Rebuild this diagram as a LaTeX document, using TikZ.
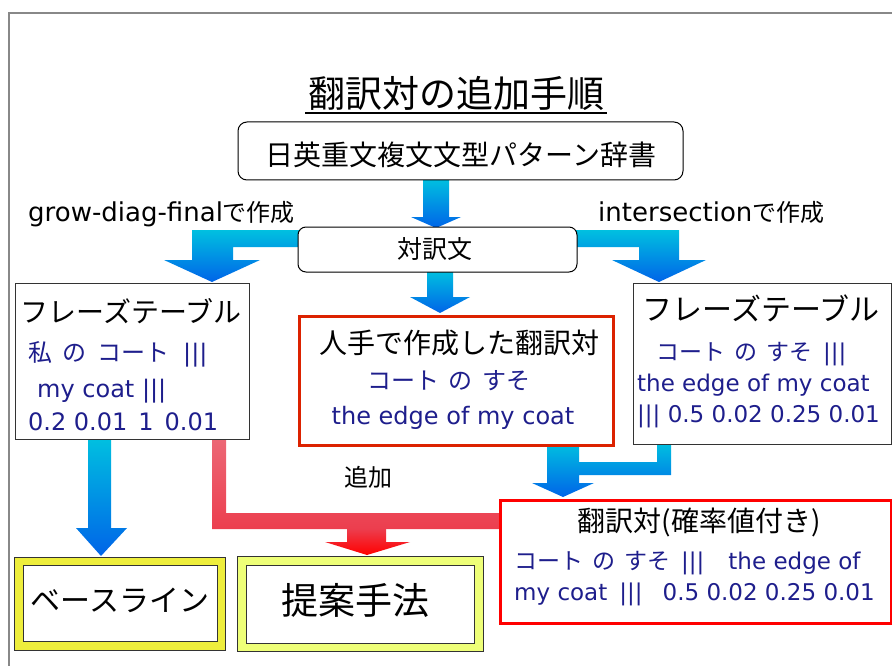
\documentclass[tikz,border=0pt]{standalone}
\usepackage{fontspec}
\setmainfont{DejaVu Sans}
\newfontfamily\jp{Noto Sans CJK JP}
\newcommand\fsz[1]{\fontsize{#1}{#1}\selectfont}
\definecolor{txtblue}{RGB}{30,30,140}
\definecolor{cyanA}{RGB}{0,192,224}
\definecolor{blueA}{RGB}{0,100,232}
\definecolor{pinkA}{RGB}{236,104,118}
\definecolor{pinkB}{RGB}{236,62,78}
\definecolor{framegray}{RGB}{136,136,136}
\definecolor{boxred}{RGB}{220,34,0}
\definecolor{yel}{RGB}{238,238,60}
\definecolor{yelpale}{RGB}{238,255,120}
\begin{document}
\begin{tikzpicture}[x=1pt,y=-1pt,
  plainbox/.style={draw=black!80, line width=1pt, fill=white, inner sep=0pt, anchor=north west},
  redbox/.style={draw=boxred, line width=3pt, fill=white, inner sep=0pt, anchor=north west},
  roundbox/.style={draw=black, line width=1pt, fill=white, rounded corners=9pt, inner sep=0pt},
  yelbox/.style={draw=black!80, line width=1pt, inner sep=0pt, anchor=north west},
  bluearrow/.style={top color=cyanA, bottom color=blueA},
  bluetxt/.style={text=txtblue, inner sep=0pt},
  blktxt/.style={text=black, inner sep=0pt}]
\useasboundingbox (0,0) rectangle (892,666);
% frame
\draw[framegray, line width=2pt] (9,666) -- (9,13) -- (892,13);
% title
\node[blktxt, font=\jp\fsz{37}] (title) at (456,93) {翻訳対の追加手順};
\draw[line width=2pt] (305,113) -- (607,113);

% ---- arrows (drawn below boxes)
\path[bluearrow] (423,179) -- (449,179) -- (449,217) -- (461,217) -- (436,228) -- (411,217) -- (423,217) -- cycle;
\path[bluearrow] (427,271) -- (453,271) -- (453,297) -- (470,297) -- (440,313) -- (410,297) -- (427,297) -- cycle;
\path[bluearrow] (300,230) -- (192,230) -- (192,260) -- (164,260) -- (212,282) -- (260,260) -- (233,260) -- (233,247) -- (300,247) -- cycle;
\path[bluearrow] (576,230) -- (679,230) -- (679,260) -- (706,260) -- (659,282) -- (612,260) -- (639,260) -- (639,247) -- (576,247) -- cycle;
\path[bluearrow] (547,443) -- (579,443) -- (579,462) -- (657,462) -- (657,443) -- (671,443) -- (671,475) -- (579,475) -- (579,483) -- (594,483) -- (563,497) -- (532,483) -- (547,483) -- cycle;
\path[bluearrow] (88,438) -- (111,438) -- (111,528) -- (127,528) -- (101,556) -- (76,528) -- (88,528) -- cycle;
\path[top color=pinkA, bottom color=pinkB] (212,438) -- (226,438) -- (226,513) -- (500,513) -- (500,529) -- (212,529) -- cycle;
\path[top color=pinkB, bottom color=red] (347,528.5) -- (386,528.5) -- (386,542) -- (410,542) -- (367,555) -- (325,542) -- (347,542) -- cycle;

% ---- boxes
\node[roundbox, minimum width=445pt, minimum height=58pt] (dict) at (460.5,151) {};
\node[blktxt, font=\jp\fsz{28}] (dicttext) at (461,155) {日英重文複文文型パターン辞書};
\node[roundbox, rounded corners=8pt, minimum width=279pt, minimum height=45pt] (pair) at (437.5,249.5) {};
\node[blktxt, font=\jp\fsz{25}] (pairtext) at (435,249) {対訳文};

\node[blktxt, anchor=base west, font=\fsz{26}] (gdf) at (28,222) {grow-diag-final{\jp\fsz{24}で作成}};
\node[blktxt, anchor=base west, font=\fsz{26}] (isec) at (598,222) {intersection{\jp\fsz{24}で作成}};

% left phrase table
\node[plainbox, minimum width=234pt, minimum height=156pt] (lt) at (15,283) {};
\node[blktxt, font=\jp\fsz{28}] (lt1) at (131,311) {フレーズテーブル};
\node[bluetxt, anchor=base west, font=\fsz{24}] (lt2) at (28,361) {{\jp 私\hspace{10pt}の\hspace{11pt}コート}\hspace{14pt}|||};
\node[bluetxt, anchor=base west, font=\fsz{24}] (lt3) at (37,397) {my coat |||};
\node[bluetxt, anchor=base west, font=\fsz{24}] (lt4) at (28,430) {0.2 0.01\hspace{11pt}1\hspace{11pt}0.01};

% hand-made pair box
\node[redbox, minimum width=314pt, minimum height=129pt] (hand) at (298,315) {};
\node[blktxt, font=\jp\fsz{28}] (h1) at (459,343) {人手で作成した翻訳対};
\node[bluetxt, font=\jp\fsz{24}] (h2) at (449,381) {コート\hspace{10pt}の\hspace{10pt}すそ};
\node[bluetxt, anchor=base, font=\fsz{24}] (h3) at (453,424) {the edge of my coat};

% right phrase table
\node[plainbox, minimum width=258pt, minimum height=161pt] (rt) at (633,283) {};
\node[blktxt, font=\jp\fsz{30}] (rt1) at (761,308) {フレーズテーブル};
\node[bluetxt, anchor=base west, font=\fsz{23}] (rt2) at (656,360) {{\jp コート\hspace{9pt}の\hspace{9pt}すそ}\hspace{11pt}|||};
\node[bluetxt, anchor=base west, font=\fsz{23}] (rt3) at (637,391) {the edge of my coat};
\node[bluetxt, anchor=base west, font=\fsz{23}] (rt4) at (637,422) {||| 0.5 0.02 0.25 0.01};

% pairs with probabilities
\node[redbox, draw=red, minimum width=391pt, minimum height=123pt] (prob) at (499,499) {};
\node[blktxt, font=\jp\fsz{28}] (p1) at (699,522) {翻訳対(確率値付き)};
\node[bluetxt, anchor=base west, font=\fsz{23}] (p2) at (514,569) {{\jp コート\hspace{9pt}の\hspace{9pt}すそ}\hspace{11pt}|||\hspace{24pt}the edge of};
\node[bluetxt, anchor=base west, font=\fsz{23}] (p3) at (514,600) {my coat\hspace{12pt}|||\hspace{20pt}0.5 0.02 0.25 0.01};

\node[blktxt, font=\jp\fsz{24}] (add) at (368,477) {追加};

% bottom boxes
\node[yelbox, fill=yel, minimum width=211pt, minimum height=93pt] (baseo) at (14,557) {};
\node[plainbox, minimum width=194pt, minimum height=76pt] (basei) at (23,565) {};
\node[blktxt, font=\jp\fsz{30}] (basetext) at (120,600) {ベースライン};
\node[yelbox, fill=yelpale, minimum width=246pt, minimum height=95pt] (propo) at (237,556) {};
\node[plainbox, minimum width=228pt, minimum height=78pt] (propi) at (246,565) {};
\node[blktxt, font=\jp\fsz{37}] (proptext) at (355,600) {提案手法};
\end{tikzpicture}
\end{document}
